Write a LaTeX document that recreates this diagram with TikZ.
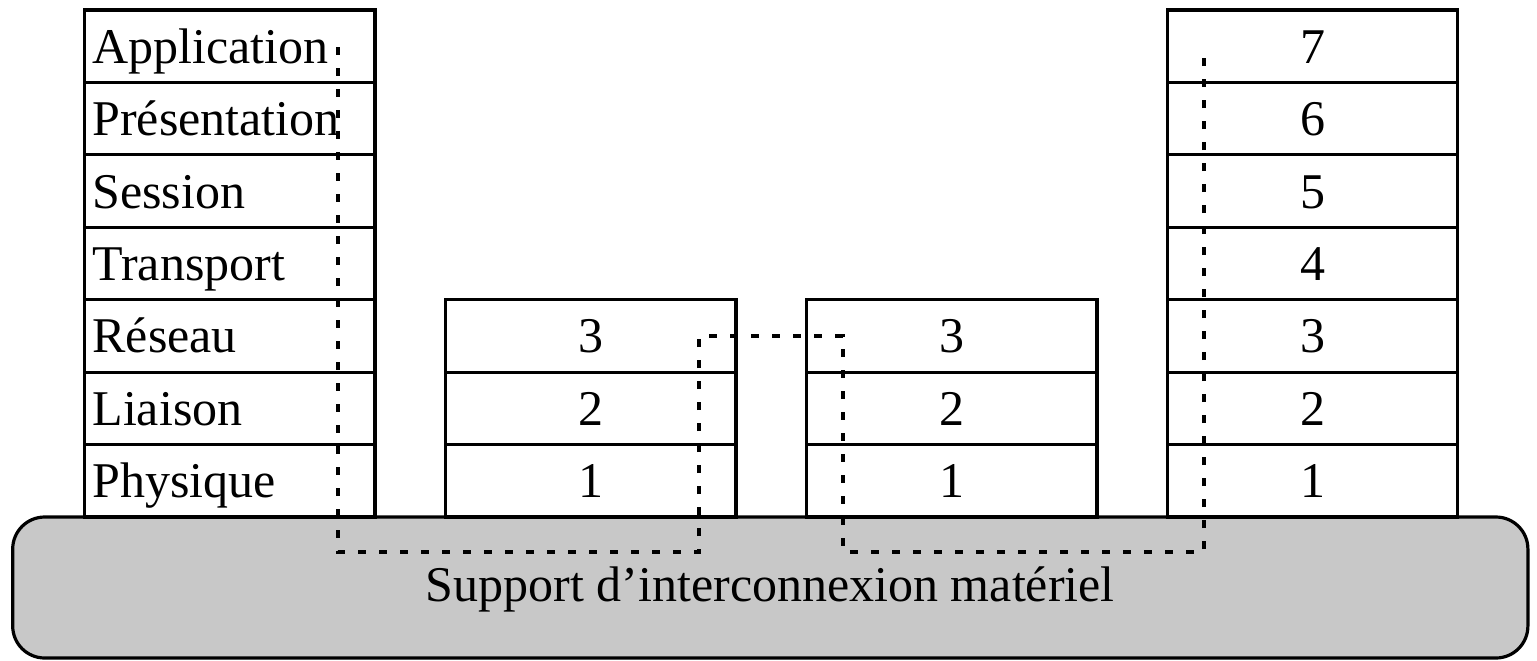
\documentclass[tikz,border=0pt]{standalone}
\usepackage{fontspec}
\setmainfont{Liberation Serif}
\usepackage{xcolor}
\usepackage{tikz}
\usetikzlibrary{positioning,calc}

\definecolor{mediumgray}{RGB}{200,200,200}

\tikzset{
  layer/.style={draw, line width=1.6pt, outer sep=0pt, fill=white,
    minimum height=36.2pt, text width=137.25pt, inner xsep=4pt, inner ysep=0pt,
    text height=22pt, text depth=5pt, font=\fontsize{25}{30}\selectfont},
  support/.style={draw, line width=1.6pt, fill=mediumgray, rounded corners=16pt,
    minimum width=757.6pt, minimum height=70.5pt, inner sep=0pt,
    text height=19pt, text depth=5pt, font=\fontsize{25}{30}\selectfont},
  link/.style={line width=1.8pt, dash pattern=on 4.1pt off 6.4pt}
}

\begin{document}
\begin{tikzpicture}[x=0.5pt, y=-0.5pt]
    \useasboundingbox (0,0) rectangle (1537,660);

    % Support physique
    \node[support] (medium) at (770.3,587.5) {Support d’interconnexion matériel};

    % Machine source (7 couches)
    \foreach \name [count=\i] in {Physique,Liaison,Réseau,Transport,Session,Présentation,Application}
        \node[layer, align=left] (src\i) at (229.7,{480.8-72.43*(\i-1)}) {\name};

    % Routeurs intermediaires (3 couches)
    \foreach \i in {1,2,3} {
        \node[layer, align=center] (ra\i) at (590.8,{480.8-72.43*(\i-1)}) {\i};
        \node[layer, align=center] (rb\i) at (951.8,{480.8-72.43*(\i-1)}) {\i};
    }

    % Machine destination (7 couches)
    \foreach \i in {1,...,7}
        \node[layer, align=center] (dst\i) at (1312.5,{480.8-72.43*(\i-1)}) {\i};

    % Chemin des donnees
    \coordinate (srcTop) at (338,47);
    \coordinate (raTop) at (699,336);
    \coordinate (rbTop) at (843,336);
    \coordinate (dstTop) at (1204,47);
    \coordinate (low) at (0,552);
    \draw[link] (srcTop) -- (srcTop |- low) -- (raTop |- low) -- (raTop)
        -- (rbTop) -- (rbTop |- low) -- (dstTop |- low) -- (dstTop);
\end{tikzpicture}
\end{document}
